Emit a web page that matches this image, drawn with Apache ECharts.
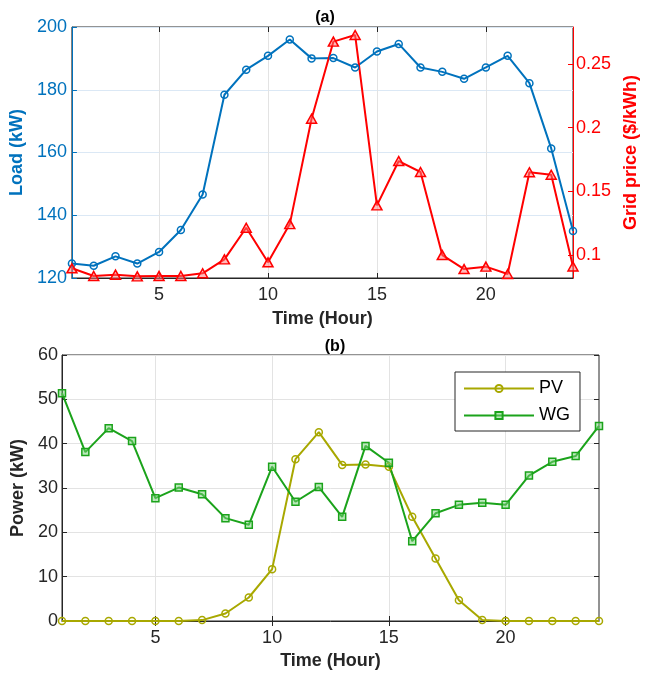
<!DOCTYPE html>
<html>
<head>
<meta charset="utf-8">
<script src="https://cdn.jsdelivr.net/npm/echarts@6/dist/echarts.min.js"></script>
<style>
  html, body { margin: 0; padding: 0; background: #fff; }
  #chart { width: 651px; height: 676px; }
</style>
</head>
<body>
<div id="chart"></div>
<script>
// hours 1..24
const hours = [1,2,3,4,5,6,7,8,9,10,11,12,13,14,15,16,17,18,19,20,21,22,23,24];
const xTicks = [5, 10, 15, 20];

// (a) load and grid price
const load = [124.6,123.9,126.9,124.6,128.3,135.3,146.6,178.4,186.4,190.8,196.0,190.0,
              190.1,187.1,192.2,194.6,187.1,185.7,183.5,187.1,190.8,182.1,161.3,135.0];
const price = [0.0896,0.0836,0.0846,0.0833,0.0836,0.0836,0.0857,0.0966,0.1214,0.0943,0.1243,0.207,
               0.2675,0.2727,0.139,0.1738,0.1652,0.1,0.089,0.0909,0.0851,0.165,0.163,0.091];
const priceTicks = [0.1, 0.15, 0.2, 0.25];

// (b) PV and WG power
const pv = [0,0,0,0,0,0,0.2,1.7,5.3,11.7,36.5,42.6,35.2,35.3,34.8,23.5,14.1,4.7,0.2,0,0,0,0,0];
const wg = [51.4,38.1,43.5,40.6,27.7,30.1,28.6,23.2,21.7,34.8,26.9,30.2,
            23.5,39.5,35.7,18.0,24.3,26.2,26.7,26.2,32.8,35.9,37.2,44.0];

const pairs = vals => hours.map((h, i) => [h, vals[i]]);

const FONT = "'Liberation Sans', Arial, sans-serif";
const DARK = '#262626';
const BLUE = '#0072BD';
const RED = '#FF0000';
const OLIVE = '#A8A800';
const GREEN = '#1BA31B';

var myChart = echarts.init(document.getElementById('chart'));

const xBase = (gridIndex, gap) => ({
  type: 'value', gridIndex: gridIndex, min: 1, max: 24,
  name: 'Time (Hour)', nameLocation: 'middle', nameGap: gap,
  nameTextStyle: { fontFamily: FONT, fontSize: 18, fontWeight: 'bold', color: DARK },
  axisLine: { lineStyle: { color: DARK, width: 1 } },
  axisTick: { inside: true, length: 5, customValues: xTicks, lineStyle: { color: DARK } },
  axisLabel: { customValues: xTicks, fontFamily: FONT, fontSize: 18, color: DARK, margin: 8 },
  splitLine: { show: true, lineStyle: { color: '#e3e3e3', width: 1 } }
});

const xTop = gridIndex => ({
  type: 'value', gridIndex: gridIndex, min: 1, max: 24, position: 'top',
  axisLine: { show: false },
  axisTick: { inside: true, length: 5, customValues: xTicks, lineStyle: { color: DARK } },
  axisLabel: { show: false },
  splitLine: { show: false }
});

const option = {
  backgroundColor: '#fff',
  animation: false,
  title: [
    { text: '(a)', left: 320, top: 5, textAlign: 'center',
      textStyle: { fontFamily: FONT, fontSize: 16, fontWeight: 'bold', color: '#000' } },
    { text: '(b)', left: 330, top: 334, textAlign: 'center',
      textStyle: { fontFamily: FONT, fontSize: 16, fontWeight: 'bold', color: '#000' } }
  ],
  grid: [
    { left: 67, right: 78, top: 27, height: 251, show: true, borderColor: DARK, borderWidth: 1 },
    { left: 62, right: 52, top: 355, height: 266, show: true, borderColor: DARK, borderWidth: 1 }
  ],
  legend: {
    data: ['PV', 'WG'],
    orient: 'vertical',
    left: 455, top: 372,
    padding: [6, 10, 5, 8],
    itemWidth: 70, itemHeight: 9, itemGap: 6,
    backgroundColor: '#fff',
    borderColor: DARK, borderWidth: 1,
    textStyle: { fontFamily: FONT, fontSize: 18, color: '#000', lineHeight: 21 }
  },
  xAxis: [xBase(0, 32), xTop(0), xBase(1, 31), xTop(1)],
  yAxis: [
    { type: 'value', gridIndex: 0, min: 120, max: 200, interval: 20,
      name: 'Load (kW)', nameLocation: 'middle', nameGap: 34,
      nameTextStyle: { fontFamily: FONT, fontSize: 18, fontWeight: 'bold', color: BLUE },
      axisLine: { show: true, lineStyle: { color: BLUE, width: 1 } },
      axisTick: { show: true, inside: true, length: 5, lineStyle: { color: BLUE } },
      axisLabel: { fontFamily: FONT, fontSize: 18, color: BLUE, margin: 5 },
      splitLine: { show: true, lineStyle: { color: '#dbe8f5', width: 1 } } },
    { type: 'value', gridIndex: 0, min: 0.082, max: 0.279, position: 'right',
      name: 'Grid price ($/kWh)', nameLocation: 'middle', nameGap: 43,
      nameTextStyle: { fontFamily: FONT, fontSize: 18, fontWeight: 'bold', color: RED },
      axisLine: { show: true, lineStyle: { color: RED, width: 1 } },
      axisTick: { show: true, inside: true, length: 5, customValues: priceTicks, lineStyle: { color: RED } },
      axisLabel: { customValues: priceTicks, fontFamily: FONT, fontSize: 18, color: RED, margin: 3 },
      splitLine: { show: false } },
    { type: 'value', gridIndex: 1, min: 0, max: 60, interval: 10,
      name: 'Power (kW)', nameLocation: 'middle', nameGap: 26,
      nameTextStyle: { fontFamily: FONT, fontSize: 18, fontWeight: 'bold', color: DARK },
      axisLine: { show: true, lineStyle: { color: DARK, width: 1 } },
      axisTick: { show: true, inside: true, length: 5, lineStyle: { color: DARK } },
      axisLabel: { fontFamily: FONT, fontSize: 18, color: DARK, margin: 4 },
      splitLine: { show: true, lineStyle: { color: '#e3e3e3', width: 1 } } },
    { type: 'value', gridIndex: 1, min: 0, max: 60, interval: 10, position: 'right',
      axisLine: { show: false },
      axisTick: { show: true, inside: true, length: 5, lineStyle: { color: DARK } },
      axisLabel: { show: false },
      splitLine: { show: false } }
  ],
  series: [
    { name: 'Load', type: 'line', xAxisIndex: 0, yAxisIndex: 0, data: pairs(load),
      symbol: 'circle', symbolSize: 7,
      lineStyle: { color: BLUE, width: 2 },
      itemStyle: { color: 'rgba(255,255,255,0)', borderColor: BLUE, borderWidth: 1.5 } },
    { name: 'Grid price', type: 'line', xAxisIndex: 0, yAxisIndex: 1, data: pairs(price),
      symbol: 'triangle', symbolSize: [10, 9],
      lineStyle: { color: RED, width: 2 },
      itemStyle: { color: 'rgba(255,120,120,0.5)', borderColor: RED, borderWidth: 1.5 } },
    { name: 'PV', type: 'line', xAxisIndex: 2, yAxisIndex: 2, data: pairs(pv),
      symbol: 'circle', symbolSize: 7,
      lineStyle: { color: OLIVE, width: 2 },
      itemStyle: { color: 'rgba(255,255,255,0)', borderColor: OLIVE, borderWidth: 1.5 } },
    { name: 'WG', type: 'line', xAxisIndex: 2, yAxisIndex: 2, data: pairs(wg),
      symbol: 'rect', symbolSize: 7,
      lineStyle: { color: GREEN, width: 2 },
      itemStyle: { color: 'rgba(120,210,120,0.5)', borderColor: GREEN, borderWidth: 1.5 } }
  ]
};

myChart.setOption(option);
</script>
</body>
</html>
